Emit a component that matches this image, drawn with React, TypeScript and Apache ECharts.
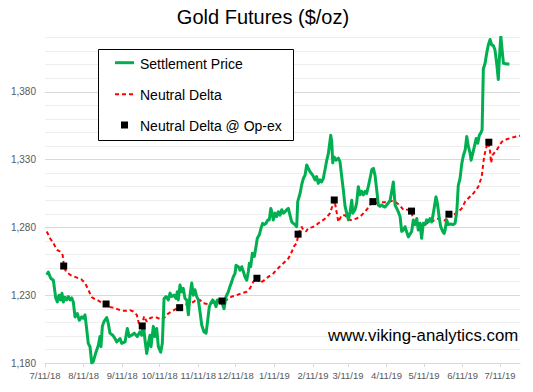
import React, { useEffect, useRef } from "react";
import * as echarts from "echarts";

const TITLE = "Gold Futures ($/oz)";
const WATERMARK = "www.viking-analytics.com";
const LEGEND_NAMES = ["Settlement Price", "Neutral Delta", "Neutral Delta @ Op-ex"];

// x values are days elapsed since 7/11/18
const START_DATE = "2018-07-11";
const X_MAX_DAY = 381;
const tickDates = [
  "2018-07-11", "2018-08-11", "2018-09-11", "2018-10-11", "2018-11-11", "2018-12-11",
  "2019-01-11", "2019-02-11", "2019-03-11", "2019-04-11", "2019-05-11", "2019-06-11", "2019-07-11",
];
const tickLabels = [
  "7/11/18", "8/11/18", "9/11/18", "10/11/18", "11/11/18", "12/11/18",
  "1/11/19", "2/11/19", "3/11/19", "4/11/19", "5/11/19", "6/11/19", "7/11/19",
];

const priceDays = [
  1.4, 2.6, 4.6, 6.7, 8.6, 9.9, 11.2, 12.6, 13.6, 14.7, 16, 17.4, 18.7, 20.1, 21.4, 22.7,
  24.1, 25.9, 27.5, 29.4, 30.7, 32.1, 33.5, 34.7, 36.1, 37.5, 38.7, 40.9, 42.8, 44.1, 44.9,
  46, 47.3, 49.5, 50.8, 52.1, 54.3, 56.2, 57.5, 60.2, 61.5, 64.2, 66, 67.6, 69.5, 71.6,
  74, 76.2, 77.6, 78.9, 80.2, 81.6, 82.9, 84.2, 85, 86.9, 88.2, 89.6, 90.9, 92.8, 94.1,
  95.5, 97.1, 98.9, 100.3, 101.6, 103.5, 105.1, 106.1, 106.9, 108.3, 109.6, 110.9, 112.3,
  113.7, 115, 116.3, 117.7, 119, 120.3, 121.7, 123, 124.3, 125.7, 127.5, 129.2, 130.2,
  131.8, 132.9, 134.5, 135.8, 137.2, 138.2, 139.8, 141.7, 143.6, 145.2, 147, 148.4, 149.8,
  151, 152.4, 153.2, 155.1, 156.4, 157.8, 159.1, 160.4, 161.8, 163.1, 163.9, 165, 166.3,
  167.9, 169.3, 170.3, 171.9, 173.3, 174.6, 175.9, 177.3, 178.7, 179.9, 181.1, 181.9,
  183.1, 184.5, 185.9, 187.1, 188.5, 189.9, 191.2, 192.5, 193.9, 195.2, 196.5, 197.9,
  199.2, 200.5, 201.9, 202.7, 204.6, 205.9, 207.2, 208.6, 209.9, 211.2, 212.6, 214.7,
  216.6, 217.9, 219.2, 220.6, 221.9, 223.2, 224.6, 226, 227.3, 229.2, 230, 230.8, 231.8,
  233.4, 235.3, 236.6, 238, 239.3, 240.7, 242, 243.4, 244.7, 246.1, 246.9, 248.7, 250,
  251.3, 252.7, 254, 255.3, 256.7, 258, 259.3, 260.7, 262.1, 263.4, 264.7, 266.1, 267.4,
  268.7, 270.1, 271.4, 272.7, 274.1, 275.4, 276.8, 278.1, 279.4, 280.8, 282.1, 283.4,
  284.8, 286.1, 287.4, 288.8, 291.4, 294.1, 295.4, 296.8, 298.2, 299.4, 300.8, 302.1,
  303.4, 304.8, 306.1, 307.5, 308.8, 310.2, 311.5, 312.8, 313.6, 314.7, 316.3, 317.4,
  319, 320.1, 320.9, 322.2, 323.5, 325.4, 327.5, 328.9, 330.3, 331.5, 332.9, 334.3,
  335.6, 337, 338.3, 339.6, 341, 341.8, 343.1, 344.4, 345.8, 347.1, 348.4, 349.5, 350.6,
  351.6, 353, 354.3, 355.6, 357, 358.3, 359.6, 360.9, 362.3, 363.6, 364.4, 365.6, 366.9,
  367.7, 370.4, 372.5,
];
const priceValues = [
  1245, 1247, 1242.5, 1241, 1228, 1225, 1230, 1226.5, 1231.5, 1225, 1228.5, 1226.5, 1229, 1226.5, 1228, 1225,
  1214, 1216.5, 1211.5, 1214, 1213, 1215.5, 1204.5, 1194.5, 1192, 1180, 1181, 1188, 1193, 1199.5, 1192,
  1207, 1210.5, 1213.5, 1209, 1202, 1200.5, 1198, 1195.5, 1198, 1194.5, 1195.5, 1205.5, 1199.5, 1200.5, 1202,
  1199.5, 1203, 1200.5, 1208, 1197, 1187, 1194.5, 1200.5, 1192, 1207, 1199.5, 1205.5, 1192, 1188, 1194.5,
  1227.5, 1229, 1226.5, 1231.5, 1229, 1230, 1227.5, 1232.5, 1226.5, 1237.5, 1232.5, 1235, 1227.5,
  1226.5, 1215.5, 1230, 1239, 1230, 1234, 1229, 1226.5, 1218, 1208, 1203, 1202, 1209,
  1221.5, 1224, 1226.5, 1225, 1221.5, 1226.5, 1226.5, 1225, 1220, 1229, 1232.5, 1236.5, 1240,
  1243.5, 1246, 1252, 1251, 1248.5, 1251, 1247.5, 1243.5, 1241, 1247.5, 1253.5, 1251, 1261,
  1258.5, 1266, 1272, 1274.5, 1279.5, 1283, 1282, 1283, 1285.5, 1285.5, 1294, 1291.5,
  1285.5, 1290.5, 1288, 1291.5, 1289, 1293, 1290.5, 1291.5, 1293, 1294, 1289, 1284,
  1283, 1282, 1280.5, 1299, 1305, 1311.5, 1316, 1318.5, 1326, 1323.5, 1321, 1318.5,
  1315, 1317.5, 1312.5, 1315, 1313.5, 1316, 1322.5, 1329.5, 1334.5, 1348, 1343, 1327.5, 1332,
  1329.5, 1331, 1328.5, 1317.5, 1307.5, 1295.5, 1290.5, 1285.5, 1291.5, 1300, 1290.5, 1293, 1298,
  1310, 1304, 1306.5, 1304, 1306.5, 1305, 1310, 1316, 1322.5, 1323.5, 1318.5, 1307.5, 1296.5,
  1295.5, 1296.5, 1295.5, 1295, 1296.5, 1298, 1300, 1306.5, 1313.5, 1296.5, 1294, 1291.5,
  1288, 1277, 1278, 1280.5, 1273, 1277, 1285.5, 1282, 1286.5, 1278, 1283, 1272,
  1283, 1282, 1285.5, 1284, 1286.5, 1284, 1290.5, 1298, 1302.5, 1298, 1286.5, 1280.5,
  1277, 1275.5, 1278, 1285.5, 1282, 1282.5, 1282, 1283, 1291.5, 1311, 1316, 1327,
  1333, 1337, 1347, 1339.5, 1334.5, 1329.5, 1334.5, 1339.5, 1345.5, 1342, 1348, 1349.5, 1352,
  1397, 1401, 1408.5, 1414.5, 1418.5, 1414.5, 1414, 1411, 1401, 1389, 1403.5, 1421, 1408.5,
  1401, 1400.5, 1400.5,
];

const deltaDays = [
  1.4, 4, 6.7, 9.4, 12.6, 14.2, 15.2, 16.8, 20.1, 24.1, 26.7, 29.4, 32.1, 34.7, 37.5, 40.1,
  42.8, 45.5, 48.9, 50.8, 53.5, 56.2, 58.8, 62.3, 65.5, 68.2, 70.8, 73.6, 75.6, 78, 79.4,
  81.6, 84.2, 86.9, 89.6, 93.6, 96.3, 98.9, 101.6, 104.3, 108.3, 110.9, 115, 119, 121.7,
  124.3, 127, 131, 134.5, 138.2, 142.5, 145.7, 149.8, 153.8, 157.8, 161.8, 164.4, 167.1,
  170.3, 172.5, 175.1, 179.1, 183.1, 187.1, 191.2, 195.2, 197.9, 199.7, 201.9, 203.2,
  204.6, 205.9, 207.2, 209.4, 211.2, 213.9, 216.6, 219.2, 223.2, 226, 228.6, 230.8, 231.8,
  232.6, 235.3, 238, 240.7, 243.4, 246.1, 250, 254, 258, 260.7, 263.4, 266.1, 270.1,
  274.1, 278.1, 280.8, 284.8, 287.4, 288.8, 294.1, 295.4, 298.2, 300.8, 304.8, 308.8,
  312.8, 315.5, 318.2, 320.9, 324.3, 327.5, 331.5, 334.3, 337, 339.6, 343.6, 347.6, 350.3,
  352.2, 353.8, 355.6, 357, 357.8, 359.1, 362.3, 366.3, 370.4, 375.7, 381,
];
const deltaValues = [
  1277, 1272, 1268.5, 1263.5, 1262, 1259.5, 1251.5, 1247.5, 1245, 1243.5, 1242.5, 1241.5, 1239, 1234, 1228.5, 1227,
  1226, 1224.5, 1223.5, 1221.5, 1221, 1220.5, 1219.5, 1218.5, 1218.5, 1219, 1218, 1215.5, 1208, 1207.3, 1214.5,
  1210.5, 1213, 1214, 1213.5, 1212, 1214, 1216.5, 1218, 1219.5, 1221, 1223, 1223.5, 1225, 1227,
  1226.5, 1224, 1223.5, 1224.5, 1225, 1225.7, 1226.5, 1229, 1230, 1231.5, 1232.5, 1235, 1240,
  1242.5, 1239, 1240.5, 1243.5, 1246, 1250, 1253.5, 1257, 1262, 1266, 1268.5, 1275,
  1278, 1280.5, 1278, 1277, 1279.5, 1280, 1281, 1283, 1285.5, 1287.5, 1290.5, 1296.5, 1300.2,
  1298, 1284, 1289, 1289, 1285.5, 1285.5, 1286.5, 1289, 1293, 1296.5, 1299, 1298, 1298.5,
  1298.5, 1299.5, 1299, 1296, 1293, 1293.5, 1292, 1284, 1283.5, 1282.5, 1282.5, 1283.5,
  1285.5, 1286.5, 1285.5, 1285, 1289.7, 1289, 1291.5, 1294, 1299, 1301.5, 1305, 1310, 1317.5,
  1332, 1338.5, 1342.8, 1336, 1327.5, 1333.5, 1337, 1343, 1345, 1346.5, 1347.5,
];

const opexDays = [15, 49, 78, 108, 142, 170, 203, 232, 263, 294, 324, 356];
const opexValues = [1251.5, 1223.5, 1207.3, 1220.8, 1225.7, 1242.5, 1275, 1300.2, 1299, 1292, 1289.7, 1342.8];

const FONT = '"Liberation Sans", Arial, Helvetica, sans-serif';
const GREEN = "#00B050";
const RED = "#FF0000";

function dayOf(iso: string): number {
  const a = Date.parse(iso + "T00:00:00Z");
  const b = Date.parse(START_DATE + "T00:00:00Z");
  return Math.round((a - b) / 86400000);
}

function fmtThousands(v: number): string {
  return String(v).replace(/\B(?=(\d{3})+(?!\d))/g, ",");
}

export default function App() {
  const ref = useRef<HTMLDivElement>(null);

  useEffect(() => {
    document.body.style.margin = "0";
    if (!ref.current) return;
    const chart = echarts.init(ref.current, undefined, { renderer: "svg" });

    const tickDays = tickDates.map(dayOf);
    const priceData = priceDays.map((d, i) => [d, priceValues[i]]);
    const deltaData = deltaDays.map((d, i) => [d, deltaValues[i]]);
    const opexData = opexDays.map((d, i) => [d, opexValues[i]]);

    const gridColors = ["#d9d9d9", "#eeeeee", "#eeeeee", "#eeeeee", "#eeeeee"];

    chart.setOption({
      animation: false,
      backgroundColor: "#ffffff",
      textStyle: { fontFamily: FONT },
      grid: { left: 45, right: 13, top: 37.5, bottom: 29, containLabel: false },
      xAxis: {
        type: "value",
        min: 0,
        max: X_MAX_DAY,
        axisLine: { show: true, lineStyle: { color: "#d9d9d9", width: 1 } },
        axisTick: {
          show: true,
          customValues: tickDays,
          length: 4,
          lineStyle: { color: "#d9d9d9" },
        },
        axisLabel: {
          customValues: tickDays,
          formatter: (v: number) => {
            const idx = tickDays.indexOf(Math.round(v));
            return idx >= 0 ? tickLabels[idx] : "";
          },
          color: "#595959",
          fontSize: 9.5,
          fontFamily: FONT,
          margin: 7,
        },
        splitLine: { show: false },
      },
      yAxis: {
        type: "value",
        min: 1180,
        max: 1420,
        interval: 10,
        axisLine: { show: false },
        axisTick: { show: false },
        axisLabel: {
          formatter: (v: number) =>
            (v - 1180) % 50 === 0 && v <= 1380 ? fmtThousands(v) : "",
          color: "#595959",
          fontSize: 10,
          fontFamily: FONT,
          margin: 9,
        },
        splitLine: { show: true, lineStyle: { color: gridColors, width: 1 } },
      },
      series: [
        {
          name: LEGEND_NAMES[1],
          type: "line",
          data: deltaData,
          showSymbol: false,
          lineStyle: { color: RED, width: 2, type: [4, 3] },
          z: 2,
        },
        {
          name: LEGEND_NAMES[0],
          type: "line",
          data: priceData,
          showSymbol: false,
          lineStyle: { color: GREEN, width: 3, join: "round" },
          z: 3,
        },
        {
          name: LEGEND_NAMES[2],
          type: "scatter",
          data: opexData,
          symbol: "rect",
          symbolSize: 7,
          itemStyle: { color: "#000000", opacity: 1 },
          z: 4,
        },
      ],
      graphic: [
        {
          type: "text",
          x: 263,
          y: 17,
          style: {
            text: TITLE,
            fontSize: 20,
            fontFamily: FONT,
            fill: "#000000",
            textAlign: "center",
            textVerticalAlign: "middle",
          },
        },
        {
          type: "rect",
          shape: { x: 98.5, y: 49.5, width: 195, height: 91 },
          style: { fill: "#ffffff", stroke: "#000000", lineWidth: 1 },
          z: 10,
        },
        {
          type: "line",
          shape: { x1: 115, y1: 62.7, x2: 134, y2: 62.7 },
          style: { stroke: GREEN, lineWidth: 3 },
          z: 11,
        },
        {
          type: "line",
          shape: { x1: 115, y1: 94.3, x2: 134, y2: 94.3 },
          style: { stroke: RED, lineWidth: 2, lineDash: [4, 3] },
          z: 11,
        },
        {
          type: "rect",
          shape: { x: 121, y: 121.5, width: 7, height: 7 },
          style: { fill: "#000000" },
          z: 11,
        },
        ...LEGEND_NAMES.map((name, i) => ({
          type: "text",
          x: 140,
          y: [63.5, 95.3, 126][i],
          z: 11,
          style: {
            text: name,
            fontSize: 14,
            fontFamily: FONT,
            fill: "#000000",
            textAlign: "left",
            textVerticalAlign: "middle",
          },
        })),
        {
          type: "text",
          x: 328,
          y: 335,
          z: 11,
          style: {
            text: WATERMARK,
            fontSize: 16.8,
            fontFamily: FONT,
            fill: "#000000",
            textAlign: "left",
            textVerticalAlign: "middle",
          },
        },
      ],
    });

    return () => {
      chart.dispose();
    };
  }, []);

  return <div ref={ref} style={{ width: 533, height: 392 }} />;
}
